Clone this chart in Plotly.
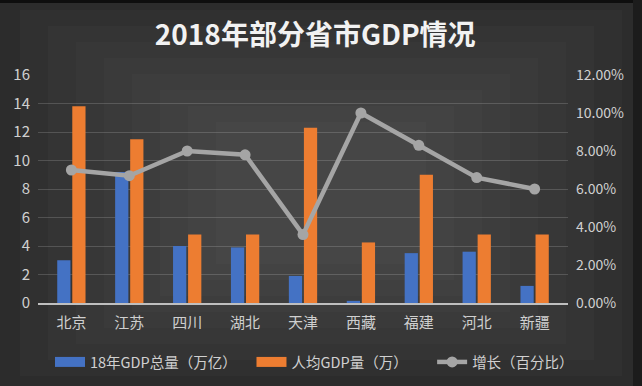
import plotly.graph_objects as go

categories = ["北京", "江苏", "四川", "湖北", "天津", "西藏", "福建", "河北", "新疆"]
gdp_total = [3.0, 9.2, 4.0, 3.9, 1.9, 0.15, 3.5, 3.6, 1.2]
gdp_per_capita = [13.8, 11.5, 4.8, 4.8, 12.3, 4.25, 9.0, 4.8, 4.8]
growth = [0.070, 0.067, 0.080, 0.078, 0.036, 0.100, 0.083, 0.066, 0.060]

names = ["18年GDP总量（万亿）", "人均GDP量（万）", "增长（百分比）"]
BLUE, ORANGE, GRAY = "#4472c4", "#ed7d31", "#a5a5a5"
NBSP = "\u00a0"  # extra spacing between legend entries

FONT = "Noto Sans CJK SC"
L, R, T, B = 38, 74, 75, 83
W, H = 642, 386
PW, PH = W - L - R, H - T - B


def px_x(x):
    return (x - L) / PW


def px_y(y):
    return (H - B - y) / PH


fig = go.Figure()
fig.add_trace(go.Bar(x=categories, y=gdp_total, name=names[0], legendgroup="a",
                     showlegend=False, marker=dict(color=BLUE, line=dict(width=0))))
fig.add_trace(go.Bar(x=categories, y=gdp_per_capita, name=names[1], legendgroup="b",
                     showlegend=False, marker=dict(color=ORANGE, line=dict(width=0))))
# legend-only swatches (wide rectangles like the original legend)
fig.add_trace(go.Scatter(x=[None], y=[None], name=names[0] + NBSP * 3, legendgroup="a",
                         mode="lines", line=dict(color=BLUE, width=10)))
fig.add_trace(go.Scatter(x=[None], y=[None], name=names[1] + NBSP * 6, legendgroup="b",
                         mode="lines", line=dict(color=ORANGE, width=10)))
fig.add_trace(go.Scatter(x=categories, y=growth, name=names[2], yaxis="y2",
                         mode="lines+markers",
                         line=dict(color=GRAY, width=4.5),
                         marker=dict(color=GRAY, size=11)))

shapes = []
# simulated radial gradient background
for i in range(8):
    inset_x = 20 + i * 28
    inset_y = 10 + i * 16
    shapes.append(dict(type="rect", xref="paper", yref="paper", layer="below",
                       x0=px_x(inset_x), x1=px_x(W - inset_x),
                       y0=px_y(H - inset_y), y1=px_y(inset_y),
                       fillcolor="rgba(255,255,255,0.018)", line=dict(width=0)))
# top black band and right dark strip
shapes.append(dict(type="rect", xref="paper", yref="paper", layer="below",
                   x0=px_x(0), x1=px_x(W), y0=px_y(3), y1=px_y(-2),
                   fillcolor="#0e0e0e", line=dict(width=0)))
shapes.append(dict(type="rect", xref="paper", yref="paper", layer="below",
                   x0=px_x(633), x1=px_x(W + 2), y0=px_y(H + 2), y1=px_y(0),
                   fillcolor="#1c1c1c", line=dict(width=0)))

fig.update_layout(
    width=W, height=H,
    margin=dict(l=L, r=R, t=T, b=B, autoexpand=False),
    paper_bgcolor="#2c2c2c",
    plot_bgcolor="rgba(0,0,0,0)",
    font=dict(family=FONT, color="#d0d0d0", size=14),
    title=dict(text="<b>2018年部分省市GDP情况</b>", x=0.491, xref="container",
               y=1 - 35 / H, yref="container", xanchor="center", yanchor="middle",
               automargin=False,
               font=dict(family=FONT, size=28, color="#f2f2f2")),
    barmode="group",
    bargap=0.48,
    bargroupgap=0.12,
    xaxis=dict(showgrid=False, showline=True, linecolor="#bfbfbf", linewidth=1.5,
               automargin=False, ticks="", ticklabelstandoff=5,
               tickfont=dict(size=15, color="#cfcfcf")),
    yaxis=dict(range=[0, 16], dtick=2, showgrid=True, gridcolor="rgba(255,255,255,0.16)",
               gridwidth=1, zeroline=False, showline=False, ticks="", automargin=False,
               ticklabelstandoff=7, tickfont=dict(size=15, color="#d0d0d0")),
    yaxis2=dict(range=[0, 0.12], dtick=0.02, tickformat=".2%", overlaying="y",
                side="right", showgrid=False, zeroline=False, showline=False, ticks="",
                automargin=False, ticklabelstandoff=7,
                tickfont=dict(size=14, color="#d0d0d0")),
    legend=dict(orientation="h", x=px_x(50), y=px_y(362), xanchor="left", yanchor="middle",
                font=dict(size=14.5, color="#d0d0d0"), bgcolor="rgba(0,0,0,0)",
                itemwidth=30, traceorder="normal", itemclick=False),
    shapes=shapes,
    showlegend=True,
)

fig.write_html("out.html", config={"displayModeBar": False},
               post_script="document.body.style.margin='0';")
